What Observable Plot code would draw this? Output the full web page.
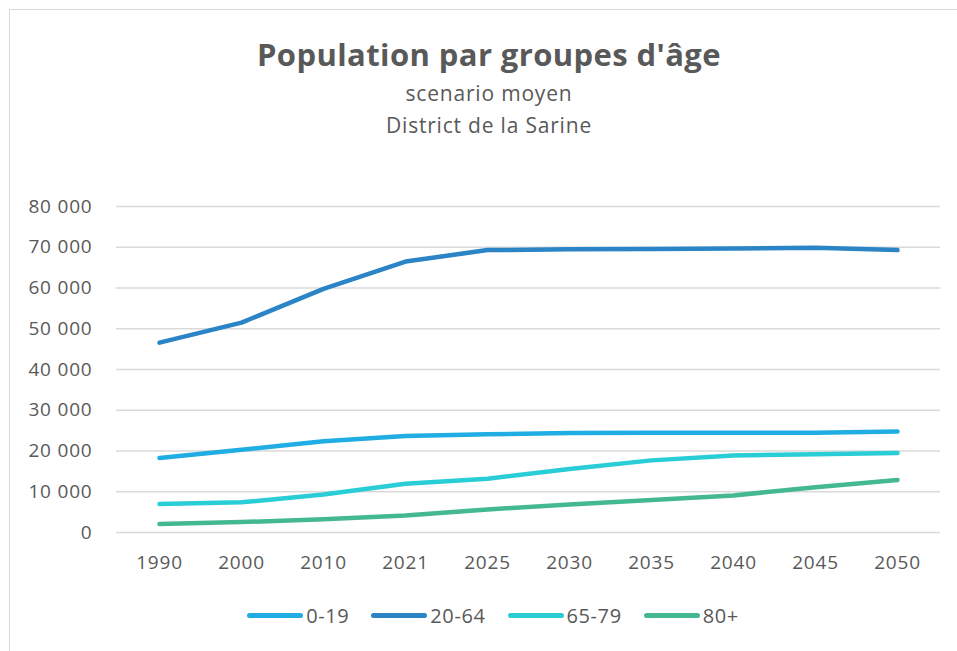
<!DOCTYPE html>
<html>
<head>
<meta charset="utf-8">
<script src="https://cdn.jsdelivr.net/npm/d3@7"></script>
<script src="https://cdn.jsdelivr.net/npm/@observablehq/plot@0.6"></script>
<style>
  body { margin: 0; background: #fff; font-family: "Open Sans", sans-serif; color: #595959; }
  #frame { position: absolute; left: 9px; top: 9px; width: 1000px; height: 700px; border: 1.5px solid #d9d9d9; box-sizing: border-box; }
  #title { position: absolute; left: 0; width: 978px; top: 33px; text-align: center; font-size: 31px; font-weight: 700; letter-spacing: 0.4px; }
  .sub { position: absolute; left: 0; width: 978px; text-align: center; font-size: 21px; letter-spacing: 0.8px; }
  #chart { position: absolute; left: 0; top: 180px; }
  #chart text { letter-spacing: 0.8px; }
  #legend { position: absolute; left: 0; width: 986px; top: 602px; display: flex; justify-content: center; align-items: center; font-size: 20px; letter-spacing: 0.6px; }
  .item { display: flex; align-items: center; margin: 0 11px; }
  .sw { width: 56px; height: 5px; border-radius: 3px; margin-right: 3px; }
</style>
</head>
<body>
<div id="frame"></div>
<div id="title">Population par groupes d'âge</div>
<div class="sub" style="top:79px">scenario moyen</div>
<div class="sub" style="top:111px">District de la Sarine</div>
<div id="chart"></div>
<div id="legend"></div>
<script>
const years = ["1990","2000","2010","2021","2025","2030","2035","2040","2045","2050"];
const seriesNames = ["0-19","20-64","65-79","80+"];
const seriesColors = ["#1fade3","#2a84c6","#29cdd6","#44b893"];
const v0_19  = [18300,20300,22400,23700,24100,24400,24500,24500,24500,24800];
const v20_64 = [46600,51500,59800,66500,69300,69500,69600,69700,69900,69300];
const v65_79 = [7000,7400,9300,11950,13200,15600,17700,18900,19200,19500];
const v80p   = [2100,2550,3250,4200,5650,6900,8000,9100,11100,12900];
const yTicks = [0,10000,20000,30000,40000,50000,60000,70000,80000];

const allValues = [v0_19, v20_64, v65_79, v80p];
const data = [];
seriesNames.forEach((s, i) => years.forEach((y, j) => data.push({year: y, value: allValues[i][j], series: s})));

const fmt = d => d3.format(",")(d).replace(/,/g, " ");

const chart = Plot.plot({
  width: 957,
  height: 420,
  marginTop: 26,
  marginBottom: 68,
  marginLeft: 116,
  marginRight: 17,
  style: { fontFamily: "Open Sans, sans-serif", fontSize: "19px", color: "#595959", background: "transparent" },
  x: { type: "band", domain: years, padding: 0, label: null, tickSize: 0, tickPadding: 23 },
  y: { domain: [0, 80000], ticks: yTicks, tickFormat: fmt, label: null, tickSize: 0, tickPadding: 24 },
  color: { domain: seriesNames, range: seriesColors },
  marks: [
    Plot.gridY(yTicks, { stroke: "#d9d9d9", strokeOpacity: 1, strokeWidth: 1.5 }),
    Plot.lineY(data, { x: "year", y: "value", z: "series", stroke: "series", strokeWidth: 4.5, strokeLinecap: "round", strokeLinejoin: "round" })
  ]
});
document.getElementById("chart").appendChild(chart);

const legend = document.getElementById("legend");
seriesNames.forEach((s, i) => {
  const it = document.createElement("div");
  it.className = "item";
  it.innerHTML = `<span class="sw" style="background:${seriesColors[i]}"></span><span>${s}</span>`;
  legend.appendChild(it);
});
</script>
</body>
</html>
